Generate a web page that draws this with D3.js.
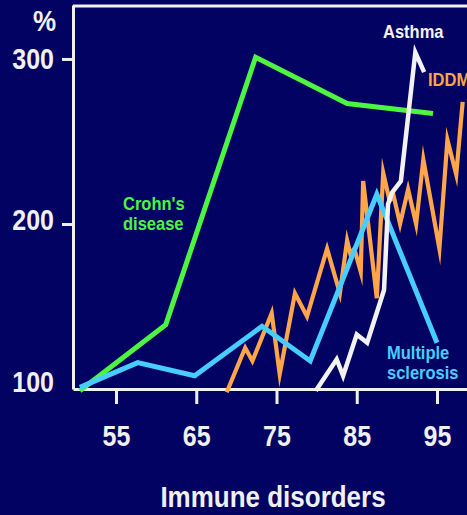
<!DOCTYPE html>
<html>
<head>
<meta charset="utf-8">
<script src="https://cdn.jsdelivr.net/npm/d3@7"></script>
<style>
  html, body { margin: 0; padding: 0; background: #020262; }
  svg { display: block; }
  text { font-family: "Liberation Sans", Arial, Helvetica, sans-serif; font-weight: bold; }
</style>
</head>
<body>
<script>
// Relative incidence (%) of immune disorders by year ('50s to late '90s)
const xTicks = [55, 65, 75, 85, 95];
const yTicks = [100, 200, 300];

const crohnYear = [50.5, 61.2, 72.4, 83.8, 94.5];
const crohnPct  = [99, 139, 301, 273, 267];

const msYear = [50.5, 57.7, 64.8, 73.2, 79.2, 87.5, 95.0];
const msPct  = [101, 116, 108, 138, 117, 218, 128];

const iddmYear = [68.8, 71.1, 72.0, 74.4, 75.4, 77.3, 78.8, 81.3, 82.9, 83.8, 84.2, 84.7, 85.5,
                  85.8, 87.5, 88.3, 89.1, 89.6, 90.4, 91.4, 92.4, 93.3, 95.3, 96.3, 97.4, 98.2];
const iddmPct  = [98, 125, 117, 146, 109, 158, 144, 185, 158, 190, 182, 185, 171,
                  226, 155, 231, 214, 217, 200, 221, 200, 239, 185, 251, 230, 274];

const asthmaYear = [79.9, 82.5, 83.3, 85.0, 86.3, 88.4, 88.9, 89.4, 90.5, 92.3, 93.4];
const asthmaPct  = [99, 118, 108, 133, 128, 160, 212, 219, 226, 304, 292];

const W = 467, H = 515;
const BG = "#020262", INK = "#f0f0f0";
const GREEN = "#4df542", BLUE = "#47cdff", ORANGE = "#ffa64a", WHITE = "#f2f2f2";
const SY = 1.15; // vertical stretch of the lettering

const svg = d3.select("body").append("svg").attr("width", W).attr("height", H);
svg.append("rect").attr("width", W).attr("height", H).attr("fill", BG);

const x = d3.scaleLinear().domain([49.64, 98.74]).range([73, 467]);
const y = d3.scaleLinear().domain([100, 332.7]).range([389, 5]);

// stretched text helper
function label(txt, px, py, size, color, anchor) {
  svg.append("text")
    .attr("transform", `translate(${px},${py}) scale(1,${SY})`)
    .attr("text-anchor", anchor || "start")
    .attr("font-size", size)
    .attr("fill", color)
    .text(txt);
}

// top frame line
svg.append("line").attr("x1", x.range()[0]).attr("x2", W).attr("y1", 6).attr("y2", 6)
  .attr("stroke", INK).attr("stroke-width", 3);

// axes
const gx = svg.append("g").attr("transform", `translate(0,${y(100)})`)
  .call(d3.axisBottom(x).tickValues(xTicks).tickSize(15).tickSizeOuter(0).tickPadding(0));
const gy = svg.append("g").attr("transform", `translate(${x.range()[0]},0)`)
  .call(d3.axisLeft(y).tickValues(yTicks).tickSize(11).tickSizeOuter(0).tickPadding(0));

[gx, gy].forEach(g => {
  g.select(".domain").attr("stroke", INK).attr("stroke-width", 3);
  g.selectAll(".tick line").attr("stroke", INK).attr("stroke-width", 3);
  g.selectAll(".tick text").attr("fill", INK).attr("font-size", 25)
    .attr("font-family", null).attr("dy", null).attr("y", null).attr("x", null);
});
gx.selectAll(".tick text").attr("text-anchor", "middle")
  .attr("transform", `translate(0,57) scale(1,${SY})`);
gy.selectAll(".tick text").attr("text-anchor", "end")
  .attr("transform", d => `translate(-19,${d === 100 ? 2 : (d === 200 ? 6 : 10)}) scale(1,${SY})`);
gy.selectAll(".tick line").filter(d => d === 100).remove();

label("%", 56, 31, 26, INK, "end");

// series lines
const line = d3.line().x(d => x(d[0])).y(d => y(d[1]));
function drawSeries(xs, ys, color, width) {
  svg.append("path")
    .datum(xs.map((v, i) => [v, ys[i]]))
    .attr("d", line)
    .attr("fill", "none")
    .attr("stroke", color)
    .attr("stroke-width", width)
    .attr("stroke-linejoin", "miter")
    .attr("stroke-miterlimit", 10)
    .attr("stroke-linecap", "butt");
}
drawSeries(crohnYear, crohnPct, GREEN, 5);
drawSeries(iddmYear, iddmPct, ORANGE, 4.2);
drawSeries(msYear, msPct, BLUE, 5);
drawSeries(asthmaYear, asthmaPct, WHITE, 4.5);

// series labels
label("Crohn's", 123, 210, 16.5, GREEN);
label("disease", 123, 230, 16.5, GREEN);
label("Multiple", 387, 359, 16.5, BLUE);
label("sclerosis", 387, 379, 16.5, BLUE);
label("Asthma", 383, 38, 16.5, WHITE);
label("IDDM", 428, 86, 16.5, ORANGE);

// axis title
label("Immune disorders", 273, 507, 26, INK, "middle");
</script>
</body>
</html>
